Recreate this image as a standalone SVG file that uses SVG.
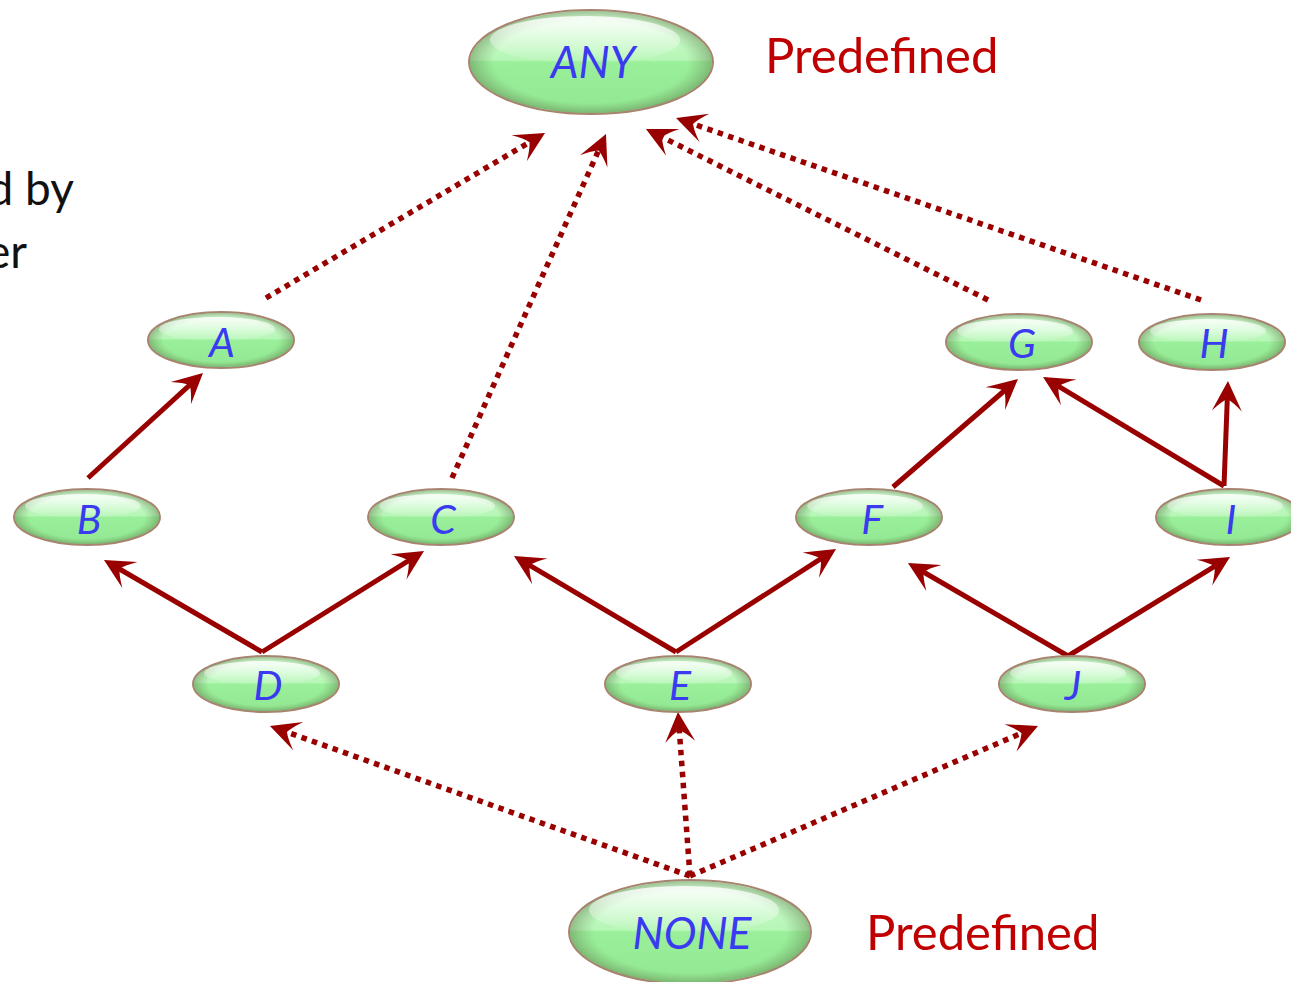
<svg xmlns="http://www.w3.org/2000/svg" width="1291" height="982" viewBox="0 0 1291 982">
  <style>
    .node-body { fill: url(#pill); stroke: #a88470; stroke-width: 2; }
    .node-rim { fill: url(#rim); }
    .node-glare { fill: url(#glare); }
    .label { font-family: Lato, "Open Sans", "Liberation Sans", sans-serif; font-style: italic; fill: #3a3af0; text-anchor: middle; }
    .small { font-size: 41px; }
    .big { font-size: 44px; }
    .note { font-family: Lato, "Open Sans", "Liberation Sans", sans-serif; font-size: 49px; fill: #c00000; }
    .side { font-family: Lato, "Open Sans", "Liberation Sans", sans-serif; font-size: 46px; fill: #111; text-anchor: end; }
    .solid { fill: none; stroke: #990000; stroke-width: 5; marker-end: url(#head); }
    .dotted { fill: none; stroke: #990000; stroke-width: 5.5; stroke-dasharray: 5.5 5.5; marker-end: url(#head); }
  </style>
  <defs>
    <!-- glassy green pill: light top half, flatter green lower half -->
    <linearGradient id="pill" x1="0" y1="0" x2="0" y2="1">
      <stop offset="0" stop-color="#d6fcd6"/>
      <stop offset="0.48" stop-color="#b6f6b6"/>
      <stop offset="0.5" stop-color="#9aef9a"/>
      <stop offset="1" stop-color="#92e892"/>
    </linearGradient>
    <radialGradient id="rim" cx="0.5" cy="0.5" r="0.5">
      <stop offset="0.8" stop-color="#6b8f5a" stop-opacity="0"/>
      <stop offset="1" stop-color="#5d7a4a" stop-opacity="0.45"/>
    </radialGradient>
    <linearGradient id="glare" x1="0" y1="0" x2="0" y2="1">
      <stop offset="0" stop-color="#ffffff" stop-opacity="0.85"/>
      <stop offset="1" stop-color="#ffffff" stop-opacity="0"/>
    </linearGradient>
    <!-- swept-back arrowhead; the line ends 10px behind the tip -->
    <marker id="head" viewBox="-32 -17 36 34" refX="-10" refY="0" markerWidth="36" markerHeight="34" markerUnits="userSpaceOnUse" orient="auto">
      <path d="M0,0 L-30,-15 Q-21,-6 -18,0 Q-21,6 -30,15 Z" fill="#990000"/>
    </marker>
  </defs>

  <!-- text running in from the left border -->
  <text class="side" x="74" y="205">d by</text>
  <text class="side" x="27" y="268">er</text>

  <text class="note" x="765" y="73">Predefined</text>
  <text class="note" x="866" y="950">Predefined</text>

  <g id="connectors">
    <!-- inheritance -->
    <path class="solid" d="M88,478 L195.6,379.7"/>
    <path class="solid" d="M262,652 L112.6,565"/>
    <path class="solid" d="M262,652 L415.5,556.3"/>
    <path class="solid" d="M676,652 L522.6,561.1"/>
    <path class="solid" d="M676,652 L827.6,554.4"/>
    <path class="solid" d="M1068,656 L916.6,568"/>
    <path class="solid" d="M1068,656 L1221.5,562.2"/>
    <path class="solid" d="M893,487 L1010.4,385.5"/>
    <path class="solid" d="M1224,486 L1051.6,382.1"/>
    <path class="solid" d="M1224,486 L1227.6,391"/>
    <!-- implicit links to ANY / from NONE -->
    <path class="dotted" d="M266,298 L536.4,138.1"/>
    <path class="dotted" d="M452,478 L601.9,143.1"/>
    <path class="dotted" d="M988,300 L654.9,133.5"/>
    <path class="dotted" d="M1201,300 L685.5,121.3"/>
    <path class="dotted" d="M690,876 L279.4,729.4"/>
    <path class="dotted" d="M690,876 L678.7,722"/>
    <path class="dotted" d="M690,876 L1028.8,730"/>
  </g>

  <g id="node-any">
    <ellipse class="node-body" cx="591" cy="62" rx="122" ry="52"/>
    <ellipse class="node-rim" cx="591" cy="62" rx="121" ry="51"/>
    <ellipse class="node-glare" cx="585" cy="40" rx="95" ry="24"/>
    <text class="label big" x="593" y="78">ANY</text>
  </g>
  <g id="node-a">
    <ellipse class="node-body" cx="221" cy="340" rx="73" ry="28"/>
    <ellipse class="node-rim" cx="221" cy="340" rx="72" ry="27"/>
    <ellipse class="node-glare" cx="217" cy="329" rx="58" ry="12"/>
    <text class="label small" x="222" y="357">A</text>
  </g>
  <g id="node-b">
    <ellipse class="node-body" cx="87" cy="517" rx="73" ry="28"/>
    <ellipse class="node-rim" cx="87" cy="517" rx="72" ry="27"/>
    <ellipse class="node-glare" cx="83" cy="506" rx="58" ry="12"/>
    <text class="label small" x="89" y="534">B</text>
  </g>
  <g id="node-c">
    <ellipse class="node-body" cx="441" cy="517" rx="73" ry="28"/>
    <ellipse class="node-rim" cx="441" cy="517" rx="72" ry="27"/>
    <ellipse class="node-glare" cx="437" cy="506" rx="58" ry="12"/>
    <text class="label small" x="443" y="534">C</text>
  </g>
  <g id="node-d">
    <ellipse class="node-body" cx="266" cy="684" rx="73" ry="28"/>
    <ellipse class="node-rim" cx="266" cy="684" rx="72" ry="27"/>
    <ellipse class="node-glare" cx="262" cy="673" rx="58" ry="12"/>
    <text class="label small" x="268" y="700">D</text>
  </g>
  <g id="node-e">
    <ellipse class="node-body" cx="678" cy="684" rx="73" ry="28"/>
    <ellipse class="node-rim" cx="678" cy="684" rx="72" ry="27"/>
    <ellipse class="node-glare" cx="674" cy="673" rx="58" ry="12"/>
    <text class="label small" x="680" y="700">E</text>
  </g>
  <g id="node-f">
    <ellipse class="node-body" cx="869" cy="517" rx="73" ry="28"/>
    <ellipse class="node-rim" cx="869" cy="517" rx="72" ry="27"/>
    <ellipse class="node-glare" cx="865" cy="506" rx="58" ry="12"/>
    <text class="label small" x="872" y="534">F</text>
  </g>
  <g id="node-g">
    <ellipse class="node-body" cx="1019" cy="342" rx="73" ry="28"/>
    <ellipse class="node-rim" cx="1019" cy="342" rx="72" ry="27"/>
    <ellipse class="node-glare" cx="1015" cy="331" rx="58" ry="12"/>
    <text class="label small" x="1022" y="358">G</text>
  </g>
  <g id="node-h">
    <ellipse class="node-body" cx="1212" cy="342" rx="73" ry="28"/>
    <ellipse class="node-rim" cx="1212" cy="342" rx="72" ry="27"/>
    <ellipse class="node-glare" cx="1208" cy="331" rx="58" ry="12"/>
    <text class="label small" x="1214" y="358">H</text>
  </g>
  <g id="node-i">
    <ellipse class="node-body" cx="1229" cy="517" rx="73" ry="28"/>
    <ellipse class="node-rim" cx="1229" cy="517" rx="72" ry="27"/>
    <ellipse class="node-glare" cx="1225" cy="506" rx="58" ry="12"/>
    <text class="label small" x="1231" y="534">I</text>
  </g>
  <g id="node-j">
    <ellipse class="node-body" cx="1072" cy="684" rx="73" ry="28"/>
    <ellipse class="node-rim" cx="1072" cy="684" rx="72" ry="27"/>
    <ellipse class="node-glare" cx="1068" cy="673" rx="58" ry="12"/>
    <text class="label small" x="1073" y="700">J</text>
  </g>
  <g id="node-none">
    <ellipse class="node-body" cx="690" cy="932" rx="121" ry="52"/>
    <ellipse class="node-rim" cx="690" cy="932" rx="120" ry="51"/>
    <ellipse class="node-glare" cx="684" cy="910" rx="95" ry="24"/>
    <text class="label big" x="692" y="949">NONE</text>
  </g>
</svg>
